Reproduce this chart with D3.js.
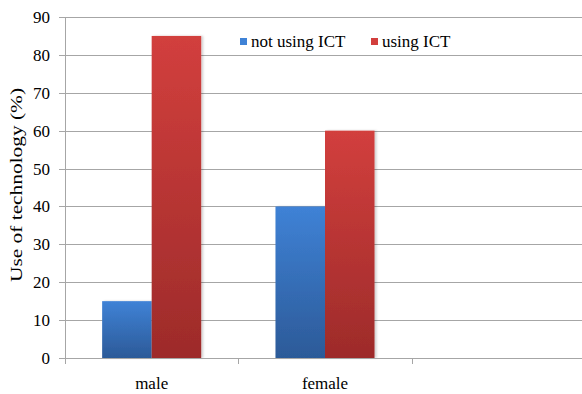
<!DOCTYPE html>
<html><head><meta charset="utf-8"><script src="https://cdn.jsdelivr.net/npm/d3@7"></script></head>
<body style="margin:0;background:#fff">
<svg id="chart" width="582" height="394" style="display:block"></svg>
<script>
// Share of respondents using technology, by gender
const categories = ["male", "female", ""];
const seriesNames = ["not using ICT", "using ICT"];
const notUsingICT = [15, 40, null];
const usingICT = [85, 60, null];
const yTicks = [0, 10, 20, 30, 40, 50, 60, 70, 80, 90];
const yTitle = "Use of technology (%)";

const seriesValues = [notUsingICT, usingICT];
const colors = {
  "not using ICT": { top: "#3f82d6", bottom: "#2c5a98" },
  "using ICT": { top: "#d23f3d", bottom: "#9d2b2a" }
};
const labelFont = "Liberation Serif";

const svg = d3.select("#chart");
const plotLeft = 65, plotRight = 585, plotTop = 17, plotBottom = 358;

const x = d3.scaleBand().domain(categories).range([plotLeft, plotRight]).paddingInner(0).paddingOuter(0);
const x1 = d3.scaleBand().domain(seriesNames).range([0, x.bandwidth()]).paddingInner(0).paddingOuter(0.75);
const y = d3.scaleLinear().domain([0, 90]).range([plotBottom, plotTop]);

// vertical gradients for the bars
const defs = svg.append("defs");
seriesNames.forEach((s, i) => {
  const g = defs.append("linearGradient").attr("id", "grad" + i)
    .attr("x1", 0).attr("y1", 0).attr("x2", 0).attr("y2", 1);
  g.append("stop").attr("offset", "0%").attr("stop-color", colors[s].top);
  g.append("stop").attr("offset", "100%").attr("stop-color", colors[s].bottom);
});
const shadow = defs.append("filter").attr("id", "shadow")
  .attr("x", "-10%").attr("y", "-10%").attr("width", "130%").attr("height", "120%");
shadow.append("feDropShadow").attr("dx", 2).attr("dy", 0).attr("stdDeviation", 1)
  .attr("flood-color", "#000").attr("flood-opacity", 0.18);

// gridlines
svg.append("g").selectAll("line").data(yTicks).join("line")
  .attr("x1", plotLeft - 6).attr("x2", 582)
  .attr("y1", d => Math.round(y(d)) + 0.5).attr("y2", d => Math.round(y(d)) + 0.5)
  .attr("stroke", "#a6a6a6");

// y tick labels
svg.append("g").selectAll("text").data(yTicks).join("text")
  .attr("x", 50).attr("y", d => y(d)).attr("dy", "0.35em")
  .attr("text-anchor", "end")
  .style("font-family", labelFont).style("font-size", "17px")
  .text(d => d);

// y axis line
svg.append("line").attr("x1", plotLeft + 0.5).attr("x2", plotLeft + 0.5).attr("y1", plotTop).attr("y2", plotBottom + 6)
  .attr("stroke", "#a6a6a6");

// x category labels and separators
svg.append("g").selectAll("text").data(categories).join("text")
  .attr("x", d => x(d) + x.bandwidth() / 2).attr("y", plotBottom + 31)
  .attr("text-anchor", "middle")
  .style("font-family", labelFont).style("font-size", "17px")
  .text(d => d);
svg.append("g").selectAll("line").data(categories.slice(1)).join("line")
  .attr("x1", d => Math.round(x(d)) + 0.5).attr("x2", d => Math.round(x(d)) + 0.5)
  .attr("y1", plotBottom).attr("y2", plotBottom + 6).attr("stroke", "#a6a6a6");

// bars
const groups = svg.append("g").selectAll("g").data(categories).join("g")
  .attr("transform", d => `translate(${x(d)},0)`);
groups.selectAll("rect")
  .data((d, ci) => seriesNames.map((s, si) => ({ s, si, v: seriesValues[si][ci] })).filter(e => e.v != null))
  .join("rect")
  .attr("x", d => x1(d.s))
  .attr("width", x1.bandwidth())
  .attr("y", d => y(d.v))
  .attr("height", d => y(0) - y(d.v))
  .attr("fill", d => `url(#grad${d.si})`)
  .attr("filter", "url(#shadow)");

// baseline drawn over the bars
svg.append("line").attr("x1", plotLeft - 6).attr("x2", 582)
  .attr("y1", Math.round(y(0)) + 0.5).attr("y2", Math.round(y(0)) + 0.5)
  .attr("stroke", "#a6a6a6");

// y title, stretched along the axis
svg.append("text")
  .attr("transform", `translate(22,185) rotate(-90)`)
  .attr("text-anchor", "middle")
  .attr("textLength", 194)
  .attr("lengthAdjust", "spacingAndGlyphs")
  .style("font-family", labelFont).style("font-size", "17px")
  .text(yTitle);

// legend
const legendPos = [240, 371];
const legend = svg.append("g").selectAll("g").data(seriesNames).join("g")
  .attr("transform", (d, i) => `translate(${legendPos[i]},35)`);
legend.append("rect").attr("width", 7).attr("height", 7).attr("y", 3)
  .attr("fill", d => colors[d].top);
legend.append("text").attr("x", 11).attr("y", 12)
  .style("font-family", labelFont).style("font-size", "17px")
  .text(d => d);
</script>
</body></html>
